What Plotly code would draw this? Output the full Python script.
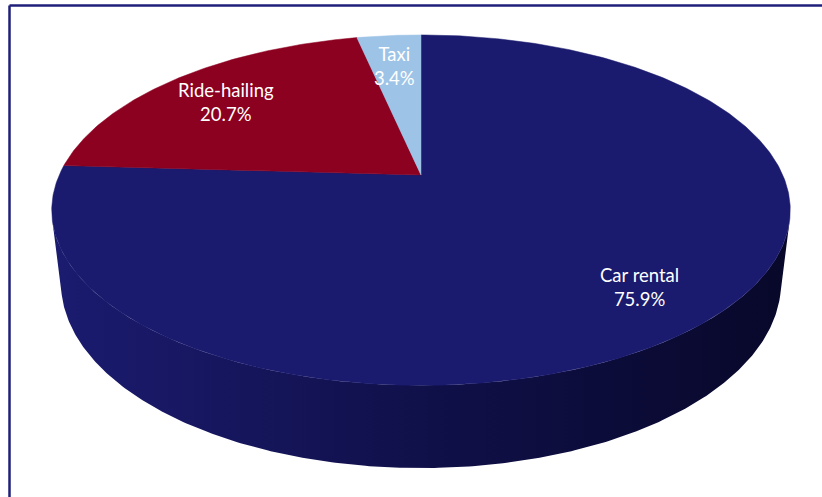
import numpy as np
import plotly.graph_objects as go

# ---- data ----
categories = ["Car rental", "Ride-hailing", "Taxi"]
shares = [75.9, 20.7, 3.4]
slice_colors = ["#1a1a6e", "#8c0020", "#9dc3e6"]
side_colors = [[0, "#1b1b70"], [0.5, "#10104a"], [1, "#08082a"]]

# ---- 3D perspective projection of a tilted pie ----
theta = np.radians(28.0)      # elevation of the viewpoint
dist = 4.4                    # camera distance (in pie radii)
focal = 1576.0                # projection scale (px)
xstretch = 1.01
height = 0.232                # pie thickness (in pie radii)
CX, CY = 421.0, 175.0         # pixel position of the pie centre
W, H = 822, 497
s, c = np.sin(theta), np.cos(theta)


def project(X, Y, Z=0.0):
    X = np.asarray(X, dtype=float)
    Y = np.asarray(Y, dtype=float)
    depth = Y * c - Z * s + dist
    sx = xstretch * focal * X / depth
    sy = focal * (Y * s + Z * c) / depth
    return sx, sy


fig = go.Figure()

# side wall (front half of the cylinder, between silhouettes)
phi_sil = np.arcsin(-1.0 / (dist * c))
phis = np.linspace(phi_sil, -np.pi - phi_sil, 300)
tx, ty = project(np.cos(phis), np.sin(phis), 0.0)
bx, by = project(np.cos(phis), np.sin(phis), -height)
side_x = np.concatenate([tx, bx[::-1]])
side_y = np.concatenate([ty, by[::-1]])
fig.add_trace(go.Scatter(
    x=side_x, y=side_y, mode="lines", fill="toself",
    line=dict(width=0), fillcolor=slice_colors[0],
    fillgradient=dict(type="horizontal", colorscale=side_colors),
    hoverinfo="skip", showlegend=False))

# top slices, clockwise from 12 o'clock
total = sum(shares)
start = 0.0
label_pts = []
for name, val, col in zip(categories, shares, slice_colors):
    a0 = start / total * 2 * np.pi
    a1 = (start + val) / total * 2 * np.pi
    n = max(int(val * 6), 20)
    al = np.linspace(a0, a1, n)
    X = np.concatenate([[0], np.sin(al), [0]])
    Y = np.concatenate([[0], np.cos(al), [0]])
    sx, sy = project(X, Y)
    fig.add_trace(go.Scatter(
        x=sx, y=sy, mode="lines", fill="toself",
        line=dict(width=0.5, color=col), fillcolor=col,
        hoverinfo="skip", showlegend=False))
    am = (a0 + a1) / 2
    lx, ly = project(0.78 * np.sin(am), 0.78 * np.cos(am))
    label_pts.append((name, val, float(lx), float(ly)))
    start += val

for name, val, lx, ly in label_pts:
    fig.add_annotation(
        x=lx, y=ly, xref="x", yref="y", yshift=-4,
        text=f"{name}<br>{val:.1f}%", showarrow=False,
        font=dict(family="Lato, 'Open Sans', sans-serif", size=18.5, color="white"),
        align="center")

# frame (top and left edges only are inside the picture)
frame = dict(color="#1f1f7a", width=2.5)
fig.add_shape(type="line", xref="paper", yref="paper",
              x0=9.5 / W, x1=1.0, y0=1 - 5.5 / H, y1=1 - 5.5 / H,
              line=frame, layer="above")
fig.add_shape(type="line", xref="paper", yref="paper",
              x0=9.5 / W, x1=9.5 / W, y0=0.0, y1=1 - 5.5 / H,
              line=frame, layer="above")

fig.update_layout(
    width=W, height=H,
    margin=dict(l=0, r=0, t=0, b=0),
    paper_bgcolor="white", plot_bgcolor="white",
    xaxis=dict(range=[-CX, W - CX], visible=False, fixedrange=True),
    yaxis=dict(range=[CY - H, CY], visible=False, fixedrange=True),
    showlegend=False,
)

fig.write_html(
    "out.html",
    config={"displayModeBar": False},
    post_script="document.body.style.margin='0';document.body.style.padding='0';"
                "document.body.style.overflow='hidden';",
)
